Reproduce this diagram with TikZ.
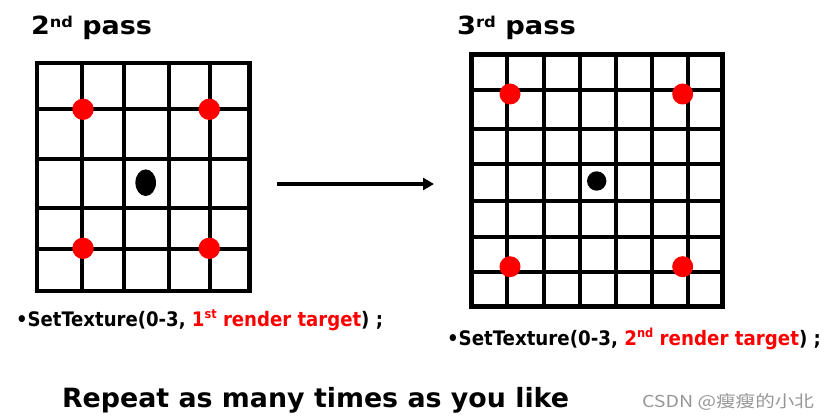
\documentclass[tikz,border=0pt]{standalone}
\usepackage{fontspec}
\usepackage{graphicx}
\setmainfont{DejaVu Sans Condensed}
\newfontfamily\cjk{Noto Sans CJK SC}
\usetikzlibrary{arrows.meta}
\definecolor{pred}{RGB}{255,0,0}
\definecolor{wmgray}{RGB}{150,150,150}
\newcommand\supx[3]{\raisebox{#2pt}{\fontsize{#1}{#1}\selectfont #3}}
\begin{document}
\begin{tikzpicture}[x=1pt,y=-1pt,
  gridline/.style={line width=4pt,black},
  gridborder/.style={line width=4.8pt,black},
  reddot/.style={fill=pred},
  blackdot/.style={fill=black},
  txt/.style={anchor=base west,inner sep=0pt,outer sep=0pt},
  arrowline/.style={line width=4.5pt,-{Triangle[length=11pt,width=12pt]}}]
\useasboundingbox (0,0) rectangle (828,420);
% titles
\node[txt] (title2) at (31,35) {\resizebox{121pt}{\height}{\fontsize{25}{30}\selectfont\bfseries 2\supx{15}{7.5}{nd} pass}};
\node[txt] (title3) at (457,35) {\resizebox{119pt}{\height}{\fontsize{25}{30}\selectfont\bfseries 3\supx{15}{7.5}{rd} pass}};
% left grid
\foreach \x in {82,124,168.7,210.3} \draw[gridline] (\x,63) -- (\x,291);
\foreach \y in {109.3,159.3,208.3,249.3} \draw[gridline] (37,\y) -- (249.5,\y);
\draw[gridborder] (37,63) rectangle (249.5,291);
\foreach \x/\y in {83/109.3,209.3/109.3,83/248.3,209.3/248.3} \fill[reddot] (\x,\y) circle (10.7);
\fill[blackdot] (145.7,182.7) ellipse [x radius=10.3, y radius=13.3];
% right grid
\foreach \x in {507,543.7,580,615.7,651.7,687.7} \draw[gridline] (\x,54.7) -- (\x,306.2);
\foreach \y in {89.7,128.7,164.3,201,237,272} \draw[gridline] (471.3,\y) -- (722.3,\y);
\draw[gridborder] (471.3,54.7) rectangle (722.3,306.2);
\foreach \x/\y in {510/94,682.7/94,510/266.7,682.7/266.7} \fill[reddot] (\x,\y) circle (10.5);
\fill[blackdot] (596.7,181) circle (9.7);
% arrow
\coordinate (arrS) at (277,184);
\coordinate (arrE) at (434,184);
\draw[arrowline] (arrS) -- (arrE);
% captions
\node[txt] (cap1) at (16,326) {\resizebox{367pt}{\height}{\fontsize{20}{24}\selectfont\bfseries \textbullet SetTexture(0-3, \textcolor{pred}{1\supx{12.5}{8}{st} render target}) ;}};
\node[txt] (cap2) at (447,345) {\resizebox{374pt}{\height}{\fontsize{20}{24}\selectfont\bfseries \textbullet SetTexture(0-3, \textcolor{pred}{2\supx{12.5}{8}{nd} render target}) ;}};
\node[txt] (bottom) at (62,407) {\resizebox{507pt}{\height}{\fontsize{26.5}{30}\selectfont\bfseries Repeat as many times as you like}};
\node[txt,text=wmgray] (wm) at (642,407) {\resizebox{172pt}{\height}{\fontsize{16.5}{20}\selectfont\cjk CSDN @瘦瘦的小北}};
\end{tikzpicture}
\end{document}
